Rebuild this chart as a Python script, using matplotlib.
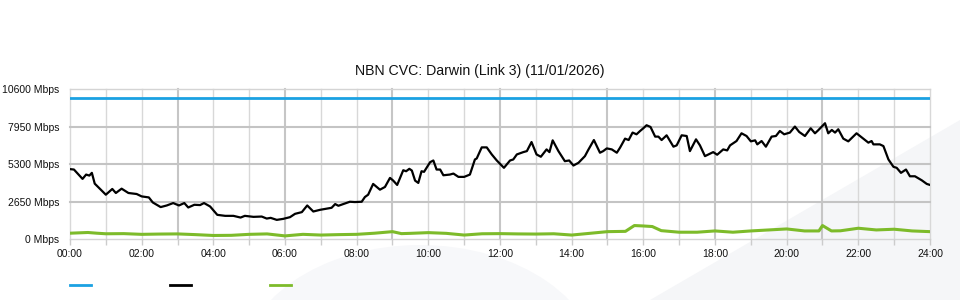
import matplotlib
matplotlib.use("Agg")
import matplotlib.pyplot as plt
from matplotlib.lines import Line2D
from matplotlib.patches import Polygon, Ellipse

plt.rcParams['font.family'] = ['Liberation Sans', 'DejaVu Sans']

# --- data (hours since midnight, Mbps) ---
capacity_hours = [0, 24]
capacity_mbps = [10000, 10000]

traffic_hours = [
    0.00, 0.11, 0.35, 0.45, 0.54, 0.61, 0.69, 0.84, 1.00, 1.18, 1.28, 1.44, 1.63, 1.86,
    2.00, 2.20, 2.31, 2.53, 2.70, 2.88, 3.04, 3.19, 3.30, 3.47, 3.63, 3.74, 3.91, 4.11,
    4.33, 4.56, 4.76, 4.88, 5.12, 5.35, 5.49, 5.60, 5.77, 5.95, 6.14, 6.28, 6.47, 6.62,
    6.79, 6.98, 7.30, 7.40, 7.49, 7.81, 7.95, 8.14, 8.23, 8.32, 8.46, 8.65, 8.79, 8.93,
    9.02, 9.13, 9.30, 9.38, 9.47, 9.54, 9.63, 9.72, 9.81, 9.88, 10.05, 10.14, 10.23,
    10.33, 10.42, 10.60, 10.70, 10.84, 11.00, 11.16, 11.30, 11.35, 11.49, 11.63, 11.77,
    11.91, 12.11, 12.28, 12.37, 12.47, 12.65, 12.75, 12.88, 13.02, 13.14, 13.30, 13.38,
    13.47, 13.63, 13.81, 13.93, 14.05, 14.19, 14.37, 14.46, 14.62, 14.79, 14.88, 14.98,
    15.12, 15.26, 15.35, 15.49, 15.59, 15.70, 15.81, 15.91, 16.00, 16.09, 16.20, 16.33,
    16.42, 16.51, 16.65, 16.84, 16.93, 17.07, 17.21, 17.30, 17.47, 17.58, 17.72, 17.95,
    18.06, 18.23, 18.34, 18.42, 18.60, 18.74, 18.88, 19.00, 19.12, 19.18, 19.30, 19.42,
    19.58, 19.70, 19.81, 19.93, 20.09, 20.23, 20.35, 20.51, 20.67, 20.79, 20.88, 21.07,
    21.16, 21.26, 21.35, 21.44, 21.58, 21.72, 21.95, 22.14, 22.28, 22.37, 22.42, 22.60,
    22.70, 22.84, 22.98, 23.07, 23.19, 23.33, 23.44, 23.58, 23.77, 23.91, 24.00,
]
traffic_mbps = [
    4950, 4920, 4260, 4565, 4494, 4686, 3926, 3550, 3145, 3550, 3266, 3571, 3266, 3195,
    3025, 2954, 2599, 2272, 2386, 2556, 2386, 2556, 2244, 2435, 2414, 2556, 2315, 1725,
    1654, 1654, 1534, 1654, 1583, 1605, 1463, 1512, 1370, 1441, 1562, 1796, 1917, 2386,
    1960, 2080, 2222, 2485, 2364, 2648, 2627, 2648, 2982, 3145, 3905, 3500, 3692, 4331,
    4139, 3834, 4871, 4800, 4970, 4849, 4139, 3976, 4800, 4757, 5439, 5559, 4920,
    4920, 4516, 4565, 4636, 4402, 4402, 4565, 5630, 5701, 6482, 6482, 5985,
    5559, 5041, 5559, 5630, 5985, 6149, 6220, 6859, 5985, 5822, 6340, 6149,
    6979, 6220, 5510, 5559, 5204, 5396, 5865, 6291, 7001, 6106, 6220, 6411,
    6340, 6106, 6461, 7100, 7001, 7526, 7405, 7640, 7831, 8044, 7924, 7242,
    7242, 7001, 7334, 6532, 6624, 7334, 7285, 6220, 7050, 6624, 5865, 6149,
    5964, 6340, 6269, 6624, 6930, 7476, 7285, 6908, 6979, 6695, 6930, 6532,
    7242, 7285, 7640, 7405, 7526, 7952, 7569, 7285, 7831, 7476, 7689, 8186,
    7476, 7711, 7526, 7760, 7100, 6908, 7476, 7100, 6816, 6930, 6695, 6695,
    6575, 5630, 5112, 5041, 4686, 4920, 4445, 4445, 4161, 3905, 3834,
]

util_hours = [
    0, 0.5, 0.75, 1.0, 1.5, 2.0, 2.5, 3.0, 3.5, 4.0, 4.5, 5.0, 5.5, 6.0, 6.5, 7.0, 7.5,
    8.0, 8.5, 9.0, 9.25, 9.5, 10.0, 10.5, 11.0, 11.5, 12.0, 12.5, 13.0, 13.5, 14.0,
    14.5, 15.0, 15.5, 15.75, 16.0, 16.25, 16.5, 17.0, 17.5, 18.0, 18.5, 19.0, 19.5,
    20.0, 20.5, 20.9, 21.0, 21.25, 21.5, 22.0, 22.5, 23.0, 23.5, 24.0,
]
util_mbps = [
    430, 480, 430, 390, 400, 350, 370, 380, 330, 270, 280, 350, 380, 240, 350, 300, 330,
    350, 430, 540, 400, 420, 470, 420, 300, 390, 400, 380, 370, 390, 300,
    420, 540, 560, 970, 940, 900, 610, 500, 500, 590, 500, 590, 660,
    730, 590, 590, 970, 590, 600, 780, 660, 710, 590, 540,
]

y_ticks = [0, 2650, 5300, 7950, 10600]
x_major = list(range(0, 25, 2))
x_labels = ["%02d:00" % h for h in x_major]
title = "NBN CVC: Darwin (Link 3) (11/01/2026)"

BLUE = "#1ba1e2"
GREEN = "#7dbb2a"

W, H = 960, 300
fig = plt.figure(figsize=(W / 100, H / 100), dpi=100)

# faint background watermark
def px(x, y):
    return (x / W, 1 - y / H)

fig.patches.append(Polygon([px(650, 300), px(960, 120), px(960, 300)], closed=True,
                           transform=fig.transFigure, facecolor="#f5f6f8",
                           edgecolor="none", zorder=-5))
fig.patches.append(Ellipse(px(420, 370), 360 / W, 250 / H, transform=fig.transFigure,
                           facecolor="#f7f8fa", edgecolor="none", zorder=-5))

ax = fig.add_axes([70 / W, 1 - 239.3 / H, 860 / W, (239.3 - 89) / H])
ax.set_facecolor("none")
ax.set_zorder(1)

# grid
for h in range(25):
    major = (h % 3 == 0) and 0 < h < 24
    ax.axvline(h, color="#c6c6c6" if major else "#d8d8d8",
               lw=1.5 if major else 1.0, zorder=1, clip_on=False)
for v in y_ticks:
    inner = 0 < v < 10600
    ax.axhline(v, color="#c4c4c4" if inner else "#d4d4d4",
               lw=1.5 if inner else 1.0, zorder=1, clip_on=False)

ax.plot(capacity_hours, capacity_mbps, color=BLUE, lw=2, zorder=3)
ax.plot(util_hours, util_mbps, color=GREEN, lw=2.2, zorder=3)
ax.plot(traffic_hours, traffic_mbps, color="black", lw=1.6, zorder=4,
        solid_joinstyle="round")

ax.set_xlim(0, 24)
ax.set_ylim(0, 10600)
for s in ax.spines.values():
    s.set_visible(False)

ax.set_yticks(y_ticks)
ax.set_yticklabels(["%d Mbps" % v for v in y_ticks])
ax.tick_params(axis="y", length=0, pad=7.5, labelsize=7.5, labelcolor="#111111")
ax.set_xticks(x_major)
ax.set_xticklabels(x_labels)
ax.set_xticks(range(25), minor=True)
ax.tick_params(axis="x", which="both", length=4, width=1, color="#cccccc",
               pad=3, labelsize=7.5, labelcolor="#111111")

fig.text(0.5, 1 - 71 / H, title, ha="center", va="center", fontsize=10.2,
         color="#111111")

# legend swatches (labels are empty in the source)
for x0, c in [(70, BLUE), (170, "black"), (270, GREEN)]:
    fig.add_artist(Line2D([x0 / W, (x0 + 21) / W], [1 - 285 / H] * 2, color=c,
                          lw=2, transform=fig.transFigure))

fig.savefig("out.png", dpi=100)
